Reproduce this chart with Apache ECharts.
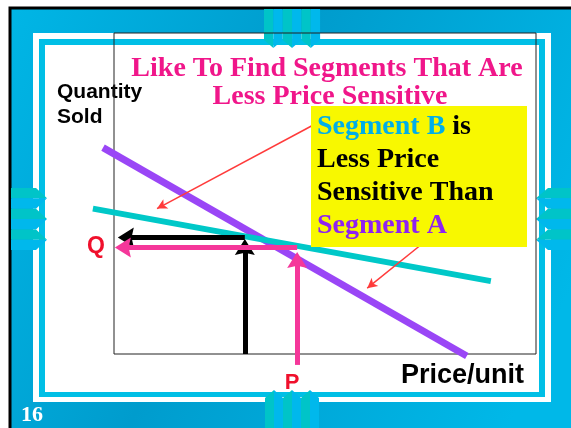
<!DOCTYPE html>
<html>
<head>
<meta charset="utf-8">
<script src="https://cdn.jsdelivr.net/npm/echarts@6/dist/echarts.min.js"></script>
<style>
  html, body { margin: 0; padding: 0; background: #fff; }
  #chart { width: 571px; height: 428px; }
</style>
</head>
<body>
<div id="chart"></div>
<script>
// demand lines, in chart units (price 0-100 across, quantity 0-100 up)
const segmentA = [[-2.6, 64.3], [83.6, -0.6]];
const segmentB = [[-5.0, 45.3], [89.3, 22.7]];
// guide arrows: [from, to] (to = centre of the arrow head)
const blackArrows = [[[31.0, 0], [31.0, 33.3]], [[31.0, 36.3], [2.8, 36.3]]];
const pinkArrows = [[[43.4, -3.4], [43.4, 29.3]], [[43.4, 33.2], [2.1, 33.2]]];
const noteArrows = [[[46.9, 71.1], [10.2, 45.3]], [[73.2, 34.5], [60.0, 20.5]]];

const titleLines = ['Like To Find Segments That Are', 'Less Price Sensitive'];

const serif = '"Liberation Serif", "Times New Roman", serif';
const sans = '"Liberation Sans", Arial, sans-serif';
const teal = '#00c4c8';
const cyan = '#00b8ec';
const headPath = 'path://M5,0 L10,10 L5,8.6 L0,10 Z';

const chart = echarts.init(document.getElementById('chart'));

// decorative arrow groups of the slide frame
function vArrow (x0, w, y0, yh, yt) {
  const m = x0 + w / 2;
  return [
    { type: 'polygon', shape: { points: [[x0, y0], [m, y0], [m, yt], [x0, yh]] }, style: { fill: teal }, z: -5 },
    { type: 'polygon', shape: { points: [[m, y0], [x0 + w, y0], [x0 + w, yh], [m, yt]] }, style: { fill: cyan }, z: -5 }
  ];
}
function hArrow (y0, h, x0, xh, xt) {
  const m = y0 + h / 2;
  return [
    { type: 'polygon', shape: { points: [[x0, y0], [xh, y0], [xt, m], [x0, m]] }, style: { fill: teal }, z: -5 },
    { type: 'polygon', shape: { points: [[x0, m], [xt, m], [xh, y0 + h], [x0, y0 + h]] }, style: { fill: cyan }, z: -5 }
  ];
}

const deco = [];
for (let i = 0; i < 3; i++) {
  deco.push(...vArrow(264 + i * 18.7, 18.7, 9, 40, 48));
  deco.push(...vArrow(265 + i * 18, 18, 428, 398, 390));
  deco.push(...hArrow(188 + i * 20.7, 20.7, 11, 36, 47));
  deco.push(...hArrow(188 + i * 20.7, 20.7, 571, 548, 536));
}

const background = [
  {
    type: 'rect', shape: { x: 10, y: 8, width: 570, height: 430 }, z: -20,
    style: {
      stroke: '#000', lineWidth: 3,
      fill: new echarts.graphic.LinearGradient(0, 0, 1, 0.6, [
        { offset: 0, color: '#00b6e6' },
        { offset: 0.45, color: '#009ccd' },
        { offset: 1, color: '#00b8e8' }
      ])
    }
  },
  { type: 'rect', shape: { x: 33, y: 33, width: 518, height: 369 }, style: { fill: '#fff' }, z: -10 },
  { type: 'rect', shape: { x: 39, y: 39, width: 506, height: 358 }, style: { fill: '#00bfe6' }, z: -10 },
  { type: 'rect', shape: { x: 45, y: 45, width: 494, height: 347 }, style: { fill: '#fff' }, z: -10 }
];

const texts = [
  { type: 'text', z: 50, style: { x: 327, y: 69, text: titleLines[0], font: 'bold 28px ' + serif, fill: '#f0168a', align: 'center', verticalAlign: 'middle' } },
  { type: 'text', z: 30, style: { x: 330, y: 97, text: titleLines[1], font: 'bold 28px ' + serif, fill: '#f0168a', align: 'center', verticalAlign: 'middle' } },
  { type: 'text', z: -1, style: { x: 57, y: 92, text: 'Quantity', font: 'bold 21px ' + sans, fill: '#000', verticalAlign: 'middle' } },
  { type: 'text', z: -1, style: { x: 57, y: 117, text: 'Sold', font: 'bold 21px ' + sans, fill: '#000', verticalAlign: 'middle' } },
  { type: 'rect', z: 40, shape: { x: 311, y: 106, width: 216, height: 141 }, style: { fill: '#f8f800' } },
  {
    type: 'text', z: 50,
    style: {
      x: 317, y: 110, verticalAlign: 'top',
      text: '{b|Segment B} {k|is}\n{k|Less Price}\n{k|Sensitive Than}\n{a|Segment A}',
      font: 'bold 28px ' + serif,
      rich: {
        b: { fill: '#00aee8', fontFamily: serif, fontWeight: 'bold', fontSize: 28, lineHeight: 33 },
        k: { fill: '#000', fontFamily: serif, fontWeight: 'bold', fontSize: 28, lineHeight: 33 },
        a: { fill: '#8e22f2', fontFamily: serif, fontWeight: 'bold', fontSize: 28, lineHeight: 33 }
      }
    }
  },
  { type: 'text', z: 50, style: { x: 96, y: 247, text: 'Q', font: 'bold 23px ' + sans, fill: '#f0102c', align: 'center', verticalAlign: 'middle' } },
  { type: 'text', z: 50, style: { x: 292, y: 383, text: 'P', font: 'bold 22px ' + sans, fill: '#f0102c', align: 'center', verticalAlign: 'middle' } },
  { type: 'text', z: 50, style: { x: 401, y: 376, text: 'Price/unit', font: 'bold 27px ' + sans, fill: '#000', verticalAlign: 'middle' } },
  { type: 'text', z: 50, style: { x: 32, y: 415, text: '16', font: 'bold 22px ' + serif, fill: '#fff', align: 'center', verticalAlign: 'middle' } }
];

function arrowLines (pairs) {
  return pairs.map(p => [{ coord: p[0] }, { coord: p[1] }]);
}
function guide (name, pairs, color, width, head, size, z) {
  return {
    type: 'line', name, data: [], xAxisIndex: 1, yAxisIndex: 1, clip: false, z,
    markLine: { silent: true, symbol: ['none', head], symbolSize: size, label: { show: false }, lineStyle: { type: 'solid', color, width }, data: arrowLines(pairs) }
  };
}

const option = {
  animation: false,
  graphic: { elements: background.concat(deco, texts) },
  grid: [
    // visible plot box
    { left: 114, top: 33, width: 422, height: 321, show: true, borderColor: '#222', borderWidth: 1, backgroundColor: 'transparent' },
    // same scale, extended 10 units left and below so marks may run past the box
    { left: 71.8, top: 33, width: 464.2, height: 353.1 }
  ],
  xAxis: [
    { gridIndex: 0, type: 'value', min: 0, max: 100, show: false },
    { gridIndex: 1, type: 'value', min: -10, max: 100, show: false }
  ],
  yAxis: [
    { gridIndex: 0, type: 'value', min: 0, max: 100, show: false },
    { gridIndex: 1, type: 'value', min: -10, max: 100, show: false }
  ],
  series: [
    { type: 'line', name: 'Segment A', data: segmentA, xAxisIndex: 1, yAxisIndex: 1, symbol: 'none', clip: false, silent: true, lineStyle: { color: '#9a46f6', width: 7 } },
    { type: 'line', name: 'Segment B', data: segmentB, xAxisIndex: 1, yAxisIndex: 1, symbol: 'none', clip: false, silent: true, lineStyle: { color: '#00c8c8', width: 6 } },
    guide('black', blackArrows, '#000', 5, headPath, [20, 16], 4),
    guide('pink', pinkArrows, '#f5379a', 5, headPath, [20, 16], 5),
    guide('notes', noteArrows, '#ff3b3b', 1.5, 'arrow', [8, 10], 6)
  ]
};
chart.setOption(option);
</script>
</body>
</html>
